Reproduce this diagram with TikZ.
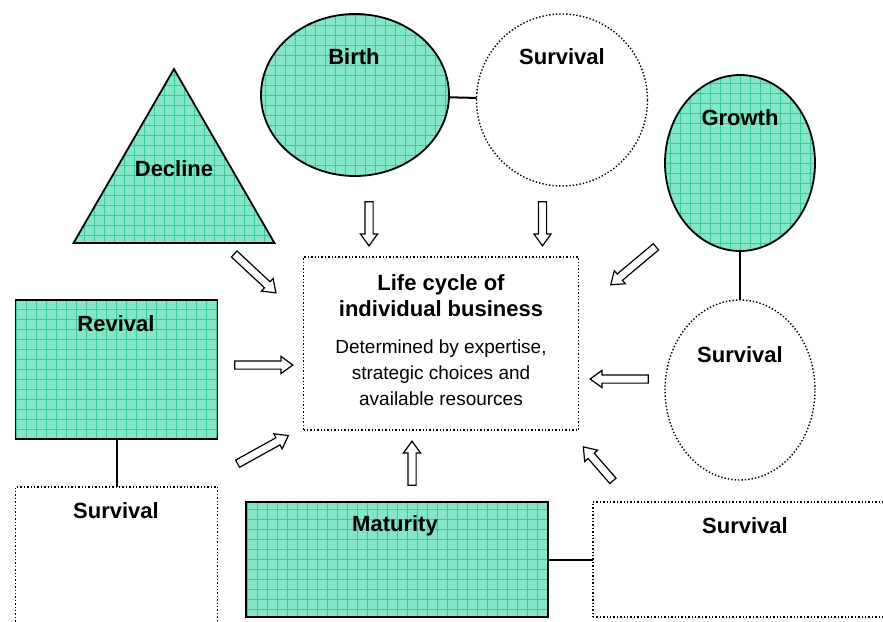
\documentclass[tikz,border=0pt]{standalone}
\usepackage{fontspec}
\setmainfont{Liberation Sans}
\usetikzlibrary{shapes.geometric,shapes.arrows}

\definecolor{stagefill}{RGB}{132,230,200}
\definecolor{stagegrid}{RGB}{55,203,155}

\tikzset{
  stage/.style={draw, line width=1.8pt, inner sep=0pt, outer sep=0pt,
    path picture={
      \fill[stagefill] (path picture bounding box.south west) rectangle (path picture bounding box.north east);
      \draw[stagegrid, line width=0.5pt] (path picture bounding box.south west) grid[step=10pt] (path picture bounding box.north east);
    }},
  survival/.style={draw, dotted, line width=1.4pt, inner sep=0pt, outer sep=0pt},
  lbl/.style={font=\fontsize{22}{26}\selectfont\bfseries, align=center},
  body/.style={font=\fontsize{19}{26}\selectfont, align=center},
  blockarrow/.style={single arrow, draw, fill=white, line width=1.2pt, inner xsep=0pt, inner ysep=3.5pt,
    single arrow head extend=4.5pt, single arrow tip angle=72, outer sep=0pt},
  link/.style={line width=2pt}
}

\begin{document}
\begin{tikzpicture}[x=1pt, y=-1pt]

\useasboundingbox (0,0) rectangle (883,621);
\clip (0,0) rectangle (883,621);

% stages
\node[stage, regular polygon, regular polygon sides=3, minimum size=232pt] (decline) at (174,185) {};
\node[stage, ellipse, minimum width=188pt, minimum height=162pt] (birth) at (355,95) {};
\node[survival, ellipse, minimum width=171pt, minimum height=172pt] (survtop) at (562,100) {};
\node[stage, ellipse, minimum width=150pt, minimum height=176pt] (growth) at (740,163) {};
\node[survival, ellipse, minimum width=150pt, minimum height=180pt] (survright) at (740,390) {};
\node[stage, rectangle, minimum width=202pt, minimum height=139pt] (revival) at (116.5,369.5) {};
\node[survival, rectangle, minimum width=202pt, minimum height=153pt] (survbl) at (116.5,563.5) {};
\node[stage, rectangle, minimum width=302pt, minimum height=115pt] (maturity) at (397,559.5) {};
\node[survival, rectangle, minimum width=307pt, minimum height=115pt] (survbr) at (746.5,559.5) {};

% centre
\node[survival, rectangle, minimum width=275pt, minimum height=173pt] (cycle) at (441,343.5) {};
\node[lbl] (cycletitle) at (441,296) {Life cycle of\\individual business};
\node[body] (cyclebody) at (441,373) {Determined by expertise,\\strategic choices and\\available resources};

% labels
\node[lbl] (declinetxt) at (174,169) {Decline};
\node[lbl] (birthtxt) at (354,57) {Birth};
\node[lbl] (survtoptxt) at (562,57) {Survival};
\node[lbl] (growthtxt) at (740,118) {Growth};
\node[lbl] (survrighttxt) at (740,355) {Survival};
\node[lbl] (revivaltxt) at (116,324) {Revival};
\node[lbl] (survbltxt) at (116,511) {Survival};
\node[lbl] (maturitytxt) at (395,526) {Maturity};
\node[lbl] (survbrtxt) at (745,526) {Survival};

\draw[link] (birth) -- (survtop);
\draw[link] (growth) -- (survright);
\draw[link] (revival) -- (survbl);
\draw[link] (maturity) -- (survbr);

% arrows into the centre
\foreach \x/\y/\len/\ang [count=\i] in {369/221/44/-90, 542.5/221/44/-90, 253/271.5/57/-43,
    635.5/264/59/-140, 261/365/58/0, 622/379/58/180, 260.5/451/58/29, 412/466/44/90, 600/466/45/131}
  \node[blockarrow, minimum height=\len pt, rotate=\ang] (arrow\i) at (\x,\y) {};

\end{tikzpicture}
\end{document}
